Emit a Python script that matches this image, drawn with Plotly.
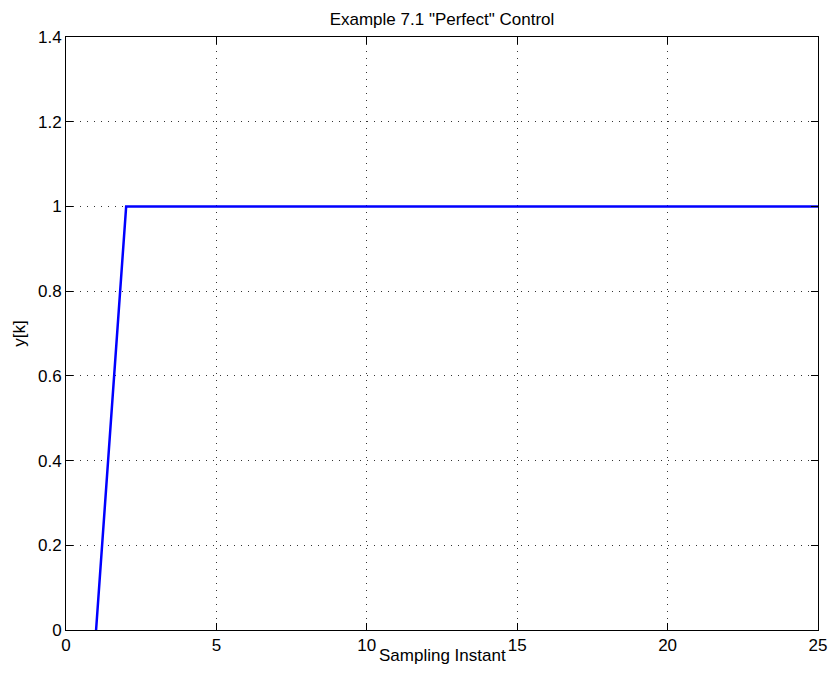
import plotly.graph_objects as go

k = list(range(1, 26))
y = [0] + [1] * 24

x_ticks = [0, 5, 10, 15, 20, 25]
y_ticks = [0, 0.2, 0.4, 0.6, 0.8, 1, 1.2, 1.4]
y_tick_text = ["0", "0.2", "0.4", "0.6", "0.8", "1", "1.2", "1.4"]

title_text = 'Example 7.1 "Perfect" Control'
x_label = "Sampling Instant"
y_label = "y[k]"

FONT = "Liberation Sans, Arial, Helvetica, sans-serif"
FS = 17

fig = go.Figure()
fig.add_trace(go.Scatter(x=k, y=y, mode="lines",
                         line=dict(color="#0000ff", width=2.5), showlegend=False))

axis_common = dict(showline=True, linecolor="black", linewidth=1, mirror="ticks",
                   ticks="inside", ticklen=7, tickcolor="black", tickwidth=1,
                   showgrid=True, gridcolor="#333333", griddash="1px,6px", gridwidth=1,
                   zeroline=False, automargin=False,
                   tickfont=dict(family=FONT, size=FS, color="black"))

fig.update_layout(
    width=830, height=679,
    margin=dict(l=66, r=12, t=37, b=49, autoexpand=False),
    paper_bgcolor="white", plot_bgcolor="white",
    font=dict(family=FONT, size=FS, color="black"),
    title=dict(text=title_text, x=0.5, xref="paper", xanchor="center",
               y=1, yref="paper", yanchor="bottom", pad=dict(b=12),
               font=dict(family=FONT, size=FS, color="black")),
    xaxis=dict(range=[0, 25], tickvals=x_ticks, **axis_common),
    yaxis=dict(range=[0, 1.4], tickvals=y_ticks, ticktext=y_tick_text,
               title=dict(text=y_label, standoff=8,
                          font=dict(family=FONT, size=FS, color="black")), **axis_common),
    annotations=[dict(text=x_label, x=0.5, xref="paper", y=0, yref="paper",
                      xanchor="center", yanchor="top", yshift=-14, showarrow=False,
                      font=dict(family=FONT, size=FS, color="black"))],
)

fig.write_html("out.html", config={"displayModeBar": False},
               post_script="document.body.style.margin='0';document.body.style.overflow='hidden';")
